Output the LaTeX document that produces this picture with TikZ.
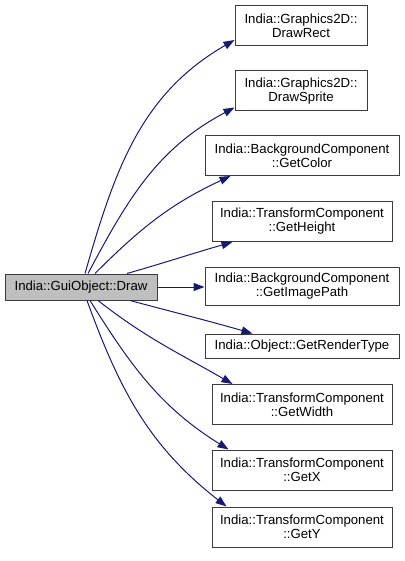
\documentclass[tikz,border=0pt]{standalone}
\usepackage{fontspec}
\setmainfont{Liberation Sans}
\usetikzlibrary{arrows.meta,calc,positioning}
\definecolor{EdgeBlue}{RGB}{25,25,112}
\definecolor{NodeGray}{RGB}{191,191,191}
\definecolor{BoxLine}{RGB}{60,60,60}

\tikzset{
  fnbox/.style={draw=BoxLine,line width=1pt,fill=white,align=center,inner sep=0pt,
    font=\fontsize{13.2}{14}\selectfont,minimum height=40pt},
  callee/.style={->,EdgeBlue,line width=1pt},
}

\begin{document}
\begin{tikzpicture}[x=1pt,y=-1pt,>={Triangle[length=11pt,width=8pt]}]
  \useasboundingbox (0,0) rectangle (404,561);
  % caller
  \node[fnbox,fill=NodeGray,minimum width=152pt,minimum height=26pt] (draw) at (81,287) {India::GuiObject::Draw};
  % callees
  \node[fnbox,minimum width=132pt] (drawrect)   at (301,25.5) {India::Graphics2D::\\DrawRect};
  \node[fnbox,minimum width=132pt] (drawsprite) at (301,91)   {India::Graphics2D::\\DrawSprite};
  \node[fnbox,minimum width=194pt] (getcolor)   at (302,155.5){India::BackgroundComponent\\::GetColor};
  \node[fnbox,minimum width=180pt] (getheight)  at (302,221.5){India::TransformComponent\\::GetHeight};
  \node[fnbox,minimum width=194pt,minimum height=38pt] (getimage) at (302,286) {India::BackgroundComponent\\::GetImagePath};
  \node[fnbox,minimum width=194pt,minimum height=24pt] (getrender) at (302,346) {India::Object::GetRenderType};
  \node[fnbox,minimum width=180pt] (getwidth)   at (302,404.5){India::TransformComponent\\::GetWidth};
  \node[fnbox,minimum width=180pt] (getx)       at (302,470)  {India::TransformComponent\\::GetX};
  \node[fnbox,minimum width=180pt] (gety)       at (302,527)  {India::TransformComponent\\::GetY};
  % calls
  \draw[callee] ([xshift=4pt]draw.north) to[out=74,in=210] ([yshift=6pt]drawrect.south west);
  \draw[callee] ([xshift=7pt]draw.north) to[out=62,in=208] ([yshift=4pt]drawsprite.south west);
  \draw[callee] ([xshift=14pt]draw.north) to[out=45,in=205] ([xshift=26pt]getcolor.south west);
  \draw[callee] ([xshift=46pt]draw.north) to[out=16,in=196] ([xshift=21pt]getheight.south west);
  \draw[callee] (draw.east) -- (draw.east -| getimage.west);
  \draw[callee] ([xshift=49pt]draw.south) to[out=-15,in=164] ([xshift=48pt]getrender.north west);
  \draw[callee] ([xshift=17pt]draw.south) to[out=-38,in=150] ([xshift=21pt]getwidth.north west);
  \draw[callee] ([xshift=9pt]draw.south) to[out=-58,in=148] ([xshift=17pt]getx.north west);
  \draw[callee] ([xshift=6pt]draw.south) to[out=-70,in=142] ([xshift=15pt]gety.north west);
\end{tikzpicture}
\end{document}
